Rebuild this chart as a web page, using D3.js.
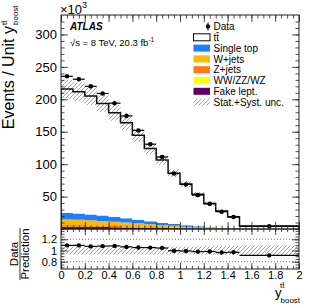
<!DOCTYPE html>
<html lang="en">
<head>
<meta charset="UTF-8">
<title>ttbar boost</title>
<style>
  body { margin: 0; background: #fff; }
  svg { display: block; font-family: "Liberation Sans", Arial, Helvetica, sans-serif; }
</style>
</head>
<body>
<svg id="chart" width="316" height="306"></svg>
<script src="https://d3js.org/d3.v7.min.js"></script>
<script>
// bins in y_boost
const binEdges = [0, 0.1, 0.2, 0.3, 0.4, 0.5, 0.6, 0.7, 0.8, 0.9, 1.0, 1.1, 1.2, 1.3, 1.4, 1.5, 2.0];
// events / unit, x10^3
const dataVals  = [235.5, 231, 220, 209, 194, 174.4, 152, 130.8, 111, 85.5, 68.7, 52.3, 38.8, 26.7, 18.4, 4.2];
const mcTotal   = [215.7, 211.6, 205, 193.7, 179.3, 163.8, 144.4, 124.3, 106.3, 85.8, 69.3, 53.4, 39.5, 27.7, 19, 4.6];
const fakeLept  = [3.5, 3.4, 3.2, 3.0, 2.7, 2.4, 2.1, 1.8, 1.5, 1.2, 0.9, 0.65, 0.45, 0.3, 0.2, 0.05];
const diboson   = [0.5, 0.5, 0.45, 0.4, 0.38, 0.34, 0.3, 0.26, 0.22, 0.18, 0.14, 0.1, 0.07, 0.05, 0.03, 0.01];
const zJets     = [2.2, 2.1, 2.0, 1.9, 1.7, 1.5, 1.3, 1.1, 0.9, 0.75, 0.55, 0.4, 0.3, 0.2, 0.12, 0.03];
const wJets     = [8.5, 8.2, 7.8, 7.2, 6.5, 5.8, 5.0, 4.2, 3.4, 2.7, 2.0, 1.4, 1.0, 0.6, 0.4, 0.1];
const singleTop = [10, 9.6, 9.1, 8.5, 7.6, 6.7, 5.7, 4.7, 3.8, 3.0, 2.2, 1.5, 1.0, 0.7, 0.4, 0.1];
// relative stat+syst uncertainty on prediction
const relUnc    = [0.068, 0.068, 0.068, 0.068, 0.068, 0.068, 0.068, 0.068, 0.068, 0.07, 0.07, 0.072, 0.075, 0.078, 0.08, 0.09];

const xTicks = [0, 0.2, 0.4, 0.6, 0.8, 1, 1.2, 1.4, 1.6, 1.8, 2];
const yTicks = [50, 100, 150, 200, 250, 300];
const ratioTicks = [0.8, 1, 1.2];
const legendLabels = ["Data", "t\u0074\u0304", "Single top", "W+jets", "Z+jets", "WW/ZZ/WZ", "Fake lept.", "Stat.+Syst. unc."];
const bkgKeys = ["fake", "diboson", "zjets", "wjets", "singletop", "ttbar"];
const bkgColors = { fake: "#5f005f", diboson: "#ffff00", zjets: "#ff7a10", wjets: "#ffb900", singletop: "#1a80ff", ttbar: "#ffffff" };

const pL = 61, pR = 299, pT = 15, pM = 229, pB = 269;

const svg = d3.select("#chart");

const x = d3.scaleLinear().domain([0, 2]).range([pL, pR]);
const y = d3.scaleLinear().domain([0, 330]).range([pM, pT]);
const yr = d3.scaleLinear().domain([0.67, 1.384]).range([pB, pM]);

// hatch
const defs = svg.append("defs");
defs.append("pattern")
  .attr("id", "hatch").attr("patternUnits", "userSpaceOnUse")
  .attr("width", 4).attr("height", 4)
  .append("path")
  .attr("d", "M-1,1 l2,-2 M0,4 l4,-4 M3,5 l2,-2")
  .attr("stroke", "#7a7a7a").attr("stroke-width", 0.7);
defs.append("clipPath").attr("id", "clipMain")
  .append("rect").attr("x", pL).attr("y", pT).attr("width", pR - pL).attr("height", pM - pT);
defs.append("clipPath").attr("id", "clipRatio")
  .append("rect").attr("x", pL).attr("y", pM).attr("width", pR - pL).attr("height", pB - pM);

// table per bin
const rows = dataVals.map((d, i) => {
  const bk = fakeLept[i] + diboson[i] + zJets[i] + wJets[i] + singleTop[i];
  return {
    x0: binEdges[i], x1: binEdges[i + 1],
    data: d, mc: mcTotal[i], unc: relUnc[i],
    fake: fakeLept[i], diboson: diboson[i], zjets: zJets[i], wjets: wJets[i], singletop: singleTop[i],
    ttbar: mcTotal[i] - bk
  };
});

const stacked = d3.stack().keys(bkgKeys)(rows);

// step points helper
function stepPts(vals) {
  const pts = [];
  vals.forEach((v, i) => {
    pts.push({ x: rows[i].x0, lo: v[0], hi: v[1] });
    pts.push({ x: rows[i].x1, lo: v[0], hi: v[1] });
  });
  return pts;
}

const main = svg.append("g").attr("clip-path", "url(#clipMain)");

const area = d3.area().x(d => x(d.x)).y0(d => y(d.lo)).y1(d => y(d.hi));
stacked.forEach(layer => {
  main.append("path")
    .attr("d", area(stepPts(layer.map(d => [d[0], d[1]]))))
    .attr("fill", bkgColors[layer.key]);
});

// uncertainty band
main.selectAll(".band").data(rows).enter().append("rect")
  .attr("x", d => x(d.x0)).attr("width", d => x(d.x1) - x(d.x0))
  .attr("y", d => y(d.mc * (1 + d.unc)))
  .attr("height", d => y(d.mc * (1 - d.unc)) - y(d.mc * (1 + d.unc)))
  .attr("fill", "url(#hatch)");

// total prediction outline
const outlinePts = [{ x: 0, v: 0 }];
rows.forEach(d => { outlinePts.push({ x: d.x0, v: d.mc }); outlinePts.push({ x: d.x1, v: d.mc }); });
outlinePts.push({ x: 2, v: 0 });
main.append("path")
  .attr("d", d3.line().x(d => x(d.x)).y(d => y(d.v))(outlinePts))
  .attr("fill", "none").attr("stroke", "#111").attr("stroke-width", 1.5);

// data
main.selectAll(".dbar").data(rows).enter().append("line")
  .attr("x1", d => x(d.x0)).attr("x2", d => x(d.x1))
  .attr("y1", d => y(d.data)).attr("y2", d => y(d.data))
  .attr("stroke", "#000").attr("stroke-width", 1.2);
main.selectAll(".dot").data(rows).enter().append("circle")
  .attr("cx", d => x((d.x0 + d.x1) / 2)).attr("cy", d => y(d.data))
  .attr("r", 2.3).attr("fill", "#000");

// ratio panel
const rat = svg.append("g").attr("clip-path", "url(#clipRatio)");
rat.selectAll(".rband").data(rows).enter().append("rect")
  .attr("x", d => x(d.x0)).attr("width", d => x(d.x1) - x(d.x0))
  .attr("y", d => yr(1 + d.unc)).attr("height", d => yr(1 - d.unc) - yr(1 + d.unc))
  .attr("fill", "url(#hatch)");
[0.8, 1.2].forEach(v => {
  rat.append("line").attr("x1", pL).attr("x2", pR)
    .attr("y1", yr(v)).attr("y2", yr(v))
    .attr("stroke", "#555").attr("stroke-width", 0.8).attr("stroke-dasharray", "1,2");
});
rat.selectAll(".rbar").data(rows).enter().append("line")
  .attr("x1", d => x(d.x0)).attr("x2", d => x(d.x1))
  .attr("y1", d => yr(d.data / d.mc)).attr("y2", d => yr(d.data / d.mc))
  .attr("stroke", "#000").attr("stroke-width", 1.2);
rat.selectAll(".rdot").data(rows).enter().append("circle")
  .attr("cx", d => x((d.x0 + d.x1) / 2)).attr("cy", d => yr(d.data / d.mc))
  .attr("r", 2.2).attr("fill", "#000");

// axes
function styleAxis(g, size) {
  g.select(".domain").remove();
  g.attr("font-family", null).attr("font-size", size);
  g.selectAll("line").attr("stroke", "#222").attr("stroke-width", 0.8);
  g.selectAll("text").attr("fill", "#000");
}
const xMinor = d3.range(0, 2.0001, 0.05);
const yMinor = d3.range(0, 330, 10);
const rMinor = d3.range(0.7, 1.38, 0.05);

// main y
svg.append("g").attr("transform", `translate(${pL},0)`)
  .call(d3.axisLeft(y).tickValues(yTicks).tickSize(-7).tickPadding(4).tickFormat(d3.format("d")))
  .call(g => styleAxis(g, 13));
svg.append("g").attr("transform", `translate(${pL},0)`)
  .call(d3.axisLeft(y).tickValues(yMinor).tickSize(-3.5).tickFormat(""))
  .call(g => styleAxis(g, 13));
svg.append("g").attr("transform", `translate(${pR},0)`)
  .call(d3.axisRight(y).tickValues(yTicks).tickSize(-7).tickFormat(""))
  .call(g => styleAxis(g, 13));
svg.append("g").attr("transform", `translate(${pR},0)`)
  .call(d3.axisRight(y).tickValues(yMinor).tickSize(-3.5).tickFormat(""))
  .call(g => styleAxis(g, 13));
// main x (no labels)
[[pT, d3.axisTop], [pM, d3.axisBottom]].forEach(([yy, ax]) => {
  svg.append("g").attr("transform", `translate(0,${yy})`)
    .call(ax(x).tickValues(xTicks).tickSize(-7).tickFormat(""))
    .call(g => styleAxis(g, 11));
  svg.append("g").attr("transform", `translate(0,${yy})`)
    .call(ax(x).tickValues(xMinor).tickSize(-3.5).tickFormat(""))
    .call(g => styleAxis(g, 11));
});
// ratio x
svg.append("g").attr("transform", `translate(0,${pB})`)
  .call(d3.axisBottom(x).tickValues(xTicks).tickSize(-6).tickPadding(2).tickFormat(d3.format("~g")))
  .call(g => styleAxis(g, 11));
svg.append("g").attr("transform", `translate(0,${pB})`)
  .call(d3.axisBottom(x).tickValues(xMinor).tickSize(-3).tickFormat(""))
  .call(g => styleAxis(g, 11));
svg.append("g").attr("transform", `translate(0,${pM})`)
  .call(d3.axisTop(x).tickValues(xTicks).tickSize(-6).tickFormat(""))
  .call(g => styleAxis(g, 11));
svg.append("g").attr("transform", `translate(0,${pM})`)
  .call(d3.axisTop(x).tickValues(xMinor).tickSize(-3).tickFormat(""))
  .call(g => styleAxis(g, 11));
// ratio y
svg.append("g").attr("transform", `translate(${pL},0)`)
  .call(d3.axisLeft(yr).tickValues(ratioTicks).tickSize(-7).tickPadding(4).tickFormat(d3.format("~g")))
  .call(g => styleAxis(g, 11));
svg.append("g").attr("transform", `translate(${pL},0)`)
  .call(d3.axisLeft(yr).tickValues(rMinor).tickSize(-3.5).tickFormat(""))
  .call(g => styleAxis(g, 11));
svg.append("g").attr("transform", `translate(${pR},0)`)
  .call(d3.axisRight(yr).tickValues(ratioTicks).tickSize(-7).tickFormat(""))
  .call(g => styleAxis(g, 11));
svg.append("g").attr("transform", `translate(${pR},0)`)
  .call(d3.axisRight(yr).tickValues(rMinor).tickSize(-3.5).tickFormat(""))
  .call(g => styleAxis(g, 11));

// frames
[[pT, pM], [pM, pB]].forEach(([a, b]) => {
  svg.append("rect").attr("x", pL).attr("y", a).attr("width", pR - pL).attr("height", b - a)
    .attr("fill", "none").attr("stroke", "#222").attr("stroke-width", 1);
});

// x10^3
const expo = svg.append("text").attr("x", 60).attr("y", 14).attr("font-size", 13);
expo.append("tspan").text("\u00d710");
expo.append("tspan").attr("font-size", 9).attr("dy", -6).text("3");

// ATLAS label
svg.append("text").attr("x", 70).attr("y", 29.5)
  .attr("font-size", 10).attr("font-weight", "bold").attr("font-style", "italic").text("ATLAS");
const lumi = svg.append("text").attr("x", 70).attr("y", 46).attr("font-size", 9.5);
lumi.append("tspan").text("\u221as = 8 TeV, 20.3 fb");
lumi.append("tspan").attr("font-size", 6.5).attr("dy", -4).text("-1");

// legend
const legY = i => 26.5 + i * 10.8;
const leg = svg.append("g");
leg.append("line").attr("x1", 208).attr("x2", 208).attr("y1", legY(0) - 4).attr("y2", legY(0) + 4)
  .attr("stroke", "#000").attr("stroke-width", 1);
leg.append("circle").attr("cx", 208).attr("cy", legY(0)).attr("r", 2.2).attr("fill", "#000");
const boxFills = [null, "#fff", bkgColors.singletop, bkgColors.wjets, bkgColors.zjets, bkgColors.diboson, bkgColors.fake, "url(#hatch)"];
boxFills.forEach((f, i) => {
  if (!f) return;
  leg.append("rect").attr("x", 193.5).attr("y", legY(i) - 3.5).attr("width", 16.5).attr("height", 7)
    .attr("fill", f).attr("stroke", i === 1 ? "#000" : "none").attr("stroke-width", 1);
});
legendLabels.forEach((t, i) => {
  leg.append("text").attr("x", 213.5).attr("y", legY(i)).attr("dy", "0.36em")
    .attr("font-size", 10).text(t);
});

// x axis title
const xt = svg.append("g");
xt.append("text").attr("x", 275).attr("y", 297).attr("font-size", 13).text("y");
xt.append("text").attr("x", 280).attr("y", 287.5).attr("font-size", 8).text("t\u0074\u0304");
xt.append("text").attr("x", 280.5).attr("y", 303).attr("font-size", 8).text("boost");

// y axis title (rotated)
const yt = svg.append("g").attr("transform", "rotate(-90)");
yt.append("text").attr("x", -26).attr("y", 14).attr("text-anchor", "end").attr("font-size", 16)
  .text("Events / Unit y");
yt.append("text").attr("x", -25).attr("y", 7).attr("font-size", 8).text("t\u0074\u0304");
yt.append("text").attr("x", -25).attr("y", 18).attr("font-size", 8).text("boost");

// ratio y title
const rt = svg.append("g").attr("transform", "rotate(-90)");
rt.append("text").attr("x", -254).attr("y", 18).attr("text-anchor", "middle").attr("font-size", 11.5).text("Data");
rt.append("text").attr("x", -254).attr("y", 29).attr("text-anchor", "middle").attr("font-size", 11.5).text("Prediction");
rt.append("line").attr("x1", -280).attr("x2", -228).attr("y1", 20).attr("y2", 20)
  .attr("stroke", "#000").attr("stroke-width", 0.8);
</script>
</body>
</html>
